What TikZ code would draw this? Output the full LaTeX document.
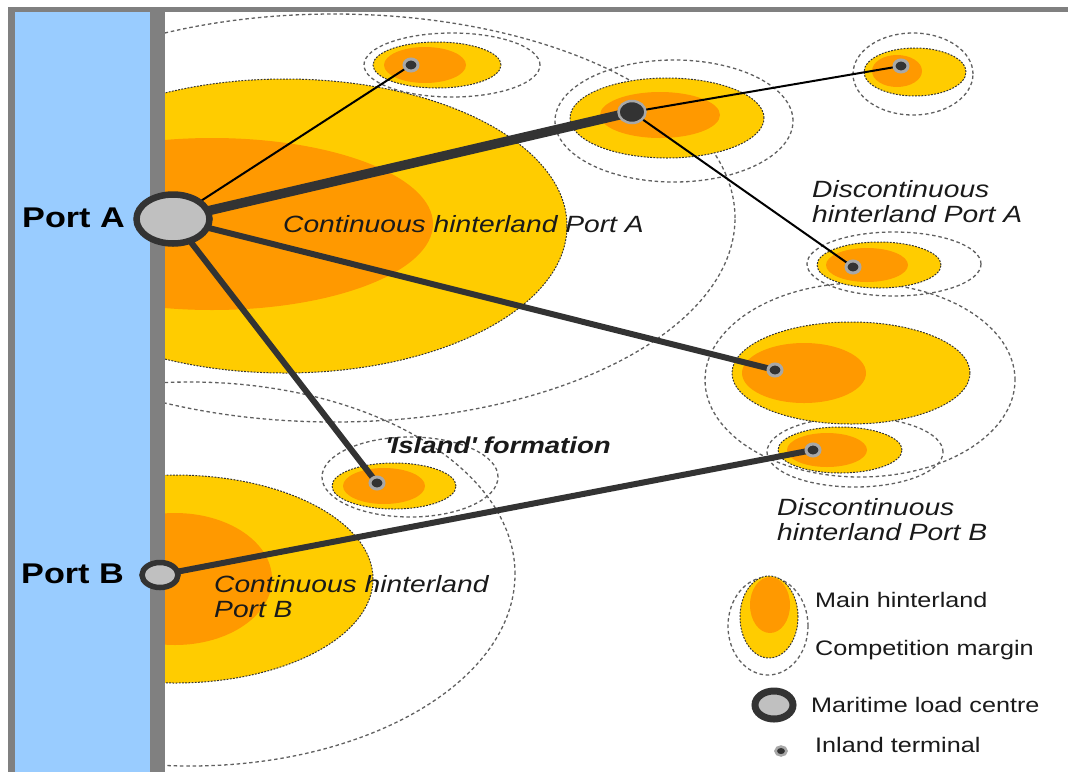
\documentclass[tikz,border=0pt]{standalone}
\usepackage{fontspec}
\setmainfont{Liberation Sans}[FakeStretch=1.2]
\usetikzlibrary{shapes.geometric}

\definecolor{sea}{HTML}{99CCFF}
\definecolor{barg}{HTML}{808080}
\definecolor{hintY}{HTML}{FFCC00}
\definecolor{hintO}{HTML}{FF9900}
\definecolor{ink}{HTML}{333333}
\definecolor{portfill}{HTML}{C0C0C0}
\definecolor{ringg}{HTML}{A8A8A8}
\definecolor{margg}{HTML}{606060}
\definecolor{txt}{HTML}{1A1A1A}

\pgfdeclarelayer{zones}
\pgfdeclarelayer{links}
\pgfsetlayers{zones,links,main}

\tikzset{
  zoneY/.style={fill=hintY, draw=ink, line width=1pt, dash pattern=on 1.8pt off 1.4pt},
  zoneO/.style={fill=hintO},
  compmargin/.style={draw=margg, line width=1.3pt, dash pattern=on 3.5pt off 2.8pt},
  thinlink/.style={draw=black, line width=2pt},
  midlink/.style={draw=ink, line width=6pt},
  thicklink/.style={draw=ink, line width=9.5pt},
  port/.style={ellipse, draw=ink, fill=portfill, inner sep=0pt},
  inland/.style={ellipse, fill=ink, draw=ringg, line width=3pt, inner sep=0pt,
                 minimum width=14pt, minimum height=12pt},
  hubnode/.style={ellipse, fill=ink, draw=ringg, line width=2.5pt, inner sep=0pt,
                 minimum width=27pt, minimum height=22pt},
  zonetext/.style={anchor=base west, inner sep=0pt, text=txt,
                   font=\fontsize{23.5}{25}\selectfont\itshape},
  portname/.style={anchor=base west, inner sep=0pt, text=black,
                   font=\fontsize{28.5}{30}\selectfont\bfseries},
  legtext/.style={anchor=base west, inner sep=0pt, text=txt,
                  font=\fontsize{21}{23}\selectfont}
}

\begin{document}
\begin{tikzpicture}[x=1pt, y=-1pt]
\useasboundingbox (0,0) rectangle (1068,772);

% ---------- hinterland zones ----------
\begin{pgfonlayer}{zones}
\fill[white] (0,0) rectangle (1068,772);
\begin{scope}
\clip (165,12) rectangle (1068,772);
% competition margins
\path[compmargin] (334,218) ellipse [x radius=401pt, y radius=204pt];
\path[compmargin] (190,574) ellipse [x radius=325pt, y radius=192pt];
\path[compmargin] (452,65)  ellipse [x radius=88pt,  y radius=32pt];
\path[compmargin] (674,121) ellipse [x radius=119pt, y radius=61pt];
\path[compmargin] (913,74)  ellipse [x radius=60pt,  y radius=41pt];
\path[compmargin] (894,264) ellipse [x radius=87pt,  y radius=32pt];
\path[compmargin] (860,380) ellipse [x radius=155pt, y radius=97pt];
\path[compmargin] (855,452) ellipse [x radius=88pt,  y radius=35pt];
\path[compmargin] (410,477) ellipse [x radius=88pt,  y radius=40pt];
\path[compmargin] (768,626) ellipse [x radius=40pt,  y radius=49pt];
% main hinterlands
\path[zoneY] (285,226) ellipse [x radius=282pt, y radius=147pt];
\path[zoneO] (212,224) ellipse [x radius=221pt, y radius=86pt];
\path[zoneY] (175,579) ellipse [x radius=198pt, y radius=104pt];
\path[zoneO] (175,579) ellipse [x radius=97pt,  y radius=66pt];
\path[zoneY] (437,65)  ellipse [x radius=64pt,  y radius=23pt];
\path[zoneO] (425,65)  ellipse [x radius=41pt,  y radius=18pt];
\path[zoneY] (667,118) ellipse [x radius=97pt,  y radius=40pt];
\path[zoneO] (660,115) ellipse [x radius=60pt,  y radius=23pt];
\path[zoneY] (915,72)  ellipse [x radius=51pt,  y radius=24pt];
\path[zoneO] (897,71)  ellipse [x radius=25pt,  y radius=16pt];
\path[zoneY] (879,265) ellipse [x radius=62pt,  y radius=23pt];
\path[zoneO] (867,265) ellipse [x radius=41pt,  y radius=17pt];
\path[zoneY] (851,373) ellipse [x radius=119pt, y radius=51pt];
\path[zoneO] (804,373) ellipse [x radius=62pt,  y radius=30pt];
\path[zoneY] (840,450) ellipse [x radius=62pt,  y radius=23pt];
\path[zoneO] (827,450) ellipse [x radius=40pt,  y radius=17pt];
\path[zoneY] (394,486) ellipse [x radius=62pt,  y radius=23pt];
\path[zoneO] (384,486) ellipse [x radius=41pt,  y radius=18pt];
% legend zone
\path[zoneY] (769,617) ellipse [x radius=29pt,  y radius=41pt];
\path[zoneO] (770,605) ellipse [x radius=20pt,  y radius=28pt];
\end{scope}
% sea and quay
\fill[barg] (8,7) rectangle (1068,12);
\fill[barg] (8,7) rectangle (15,772);
\fill[sea]  (15,12) rectangle (150,772);
\fill[barg] (150,7) rectangle (165,772);
\end{pgfonlayer}

% ---------- ports and terminals ----------
\node[port, line width=6.5pt, minimum width=73pt, minimum height=49pt] (pa) at (173,219) {};
\node[port, line width=5.5pt, minimum width=36pt, minimum height=25pt] (pb) at (160,575) {};
\node[hubnode] (hub) at (632,112) {};
\node[inland] (t1) at (411,65) {};
\node[inland] (t3) at (901,66) {};
\node[inland] (t4) at (853,267) {};
\node[inland] (t5) at (775,370) {};
\node[inland] (t6) at (813,450) {};
\node[inland] (t7) at (377,483) {};

% ---------- corridors ----------
\begin{pgfonlayer}{links}
\draw[thinlink]  (pa.center) -- (t1.center);
\draw[thicklink] (pa.center) -- (hub.center);
\draw[thinlink]  (hub.center) -- (t3.center);
\draw[thinlink]  (hub.center) -- (t4.center);
\draw[midlink]   (pa.center) -- (t5.center);
\draw[midlink]   (pa.center) -- (t7.center);
\draw[midlink]   (pb.center) -- (t6.center);
\end{pgfonlayer}

% ---------- labels ----------
\node[portname] (lpa) at (22,227) {Port A};
\node[portname] (lpb) at (21,583) {Port B};
\node[zonetext] (cA) at (283,232) {Continuous hinterland Port A};
\node[zonetext] (dA1) at (812,197) {Discontinuous};
\node[zonetext] (dA2) at (812,222) {hinterland Port A};
\node[zonetext, font=\fontsize{23}{25}\selectfont\bfseries\itshape] (isl) at (385,453) {\textquotesingle Island\textquotesingle\ formation};
\node[zonetext] (dB1) at (777,515) {Discontinuous};
\node[zonetext] (dB2) at (777,540) {hinterland Port B};
\node[zonetext] (cB1) at (214,592) {Continuous hinterland};
\node[zonetext] (cB2) at (214,617) {Port B};

% ---------- legend ----------
\node[legtext] (lg1) at (815,607) {Main hinterland};
\node[legtext] (lg2) at (815,655) {Competition margin};
\node[port, line width=7pt, minimum width=38pt, minimum height=28pt] (lgport) at (774,705) {};
\node[legtext] (lg3) at (811,712) {Maritime load centre};
\node[inland, line width=2.5pt, minimum width=11pt, minimum height=9pt] (lgterm) at (781,751) {};
\node[legtext] (lg4) at (815,752) {Inland terminal};
\end{tikzpicture}
\end{document}
